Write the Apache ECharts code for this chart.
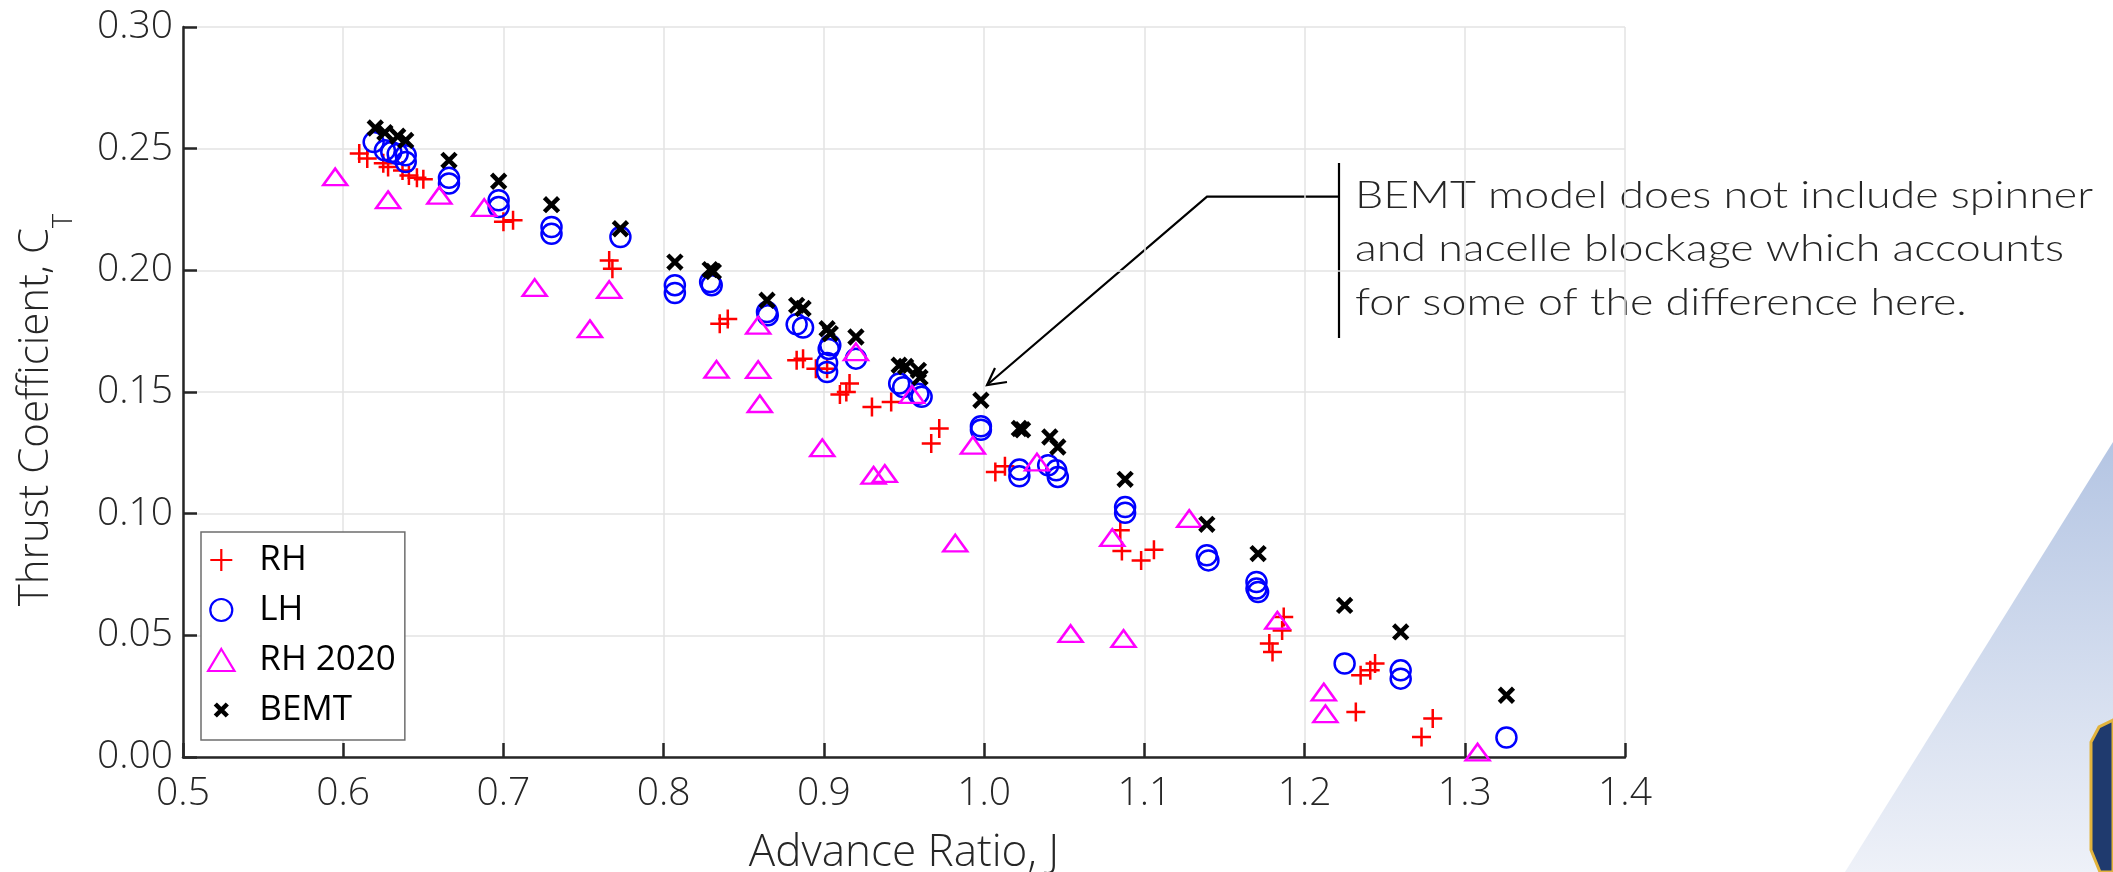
<!DOCTYPE html>
<html>
<head>
<meta charset="utf-8">
<title>Thrust Coefficient vs Advance Ratio</title>
<script src="https://cdn.jsdelivr.net/npm/echarts@6/dist/echarts.min.js"></script>
<style>
  html, body { margin: 0; padding: 0; background: #fff; }
  #chart { width: 2113px; height: 872px; }
</style>
</head>
<body>
<div id="chart"></div>
<script>
// advance ratio J and thrust coefficient CT
var rhJ = [0.610, 0.615, 0.625, 0.628, 0.637, 0.641, 0.646, 0.650, 0.700, 0.706,
  0.766, 0.768, 0.835, 0.840, 0.883, 0.887, 0.895, 0.902, 0.910, 0.914, 0.916,
  0.930, 0.942, 0.967, 0.972, 1.007, 1.013, 1.085, 1.086, 1.098, 1.106,
  1.178, 1.180, 1.186, 1.187, 1.232, 1.235, 1.241, 1.244, 1.273, 1.280];
var rhCT = [0.248, 0.246, 0.244, 0.2425, 0.241, 0.239, 0.238, 0.2374, 0.220, 0.2206,
  0.204, 0.2007, 0.178, 0.180, 0.163, 0.1637, 0.1596, 0.1596, 0.149, 0.150, 0.1535,
  0.1438, 0.1459, 0.1288, 0.135, 0.1171, 0.1195, 0.0932, 0.0847, 0.0808, 0.0852,
  0.0466, 0.0432, 0.052, 0.0575, 0.0185, 0.0336, 0.0357, 0.0384, 0.0082, 0.0158];

var lhJ = [0.619, 0.626, 0.630, 0.634, 0.639, 0.639, 0.666, 0.666, 0.697, 0.697,
  0.730, 0.730, 0.773, 0.807, 0.807, 0.829, 0.830, 0.8645, 0.865, 0.883, 0.887,
  0.904, 0.903, 0.902, 0.902, 0.920, 0.947, 0.9495, 0.959, 0.961, 0.998, 0.998,
  1.022, 1.022, 1.040, 1.045, 1.046, 1.088, 1.088, 1.139, 1.140,
  1.170, 1.170, 1.171, 1.225, 1.260, 1.260, 1.326];
var lhCT = [0.2527, 0.2493, 0.2486, 0.2478, 0.2473, 0.2445, 0.238, 0.2357, 0.2288, 0.226,
  0.2178, 0.215, 0.2137, 0.1939, 0.1907, 0.1952, 0.1939, 0.1829, 0.1815, 0.1778, 0.1765,
  0.1692, 0.1677, 0.1619, 0.1582, 0.1637, 0.1535, 0.152, 0.1493, 0.148, 0.1359, 0.1345,
  0.1181, 0.1154, 0.1199, 0.1178, 0.1151, 0.1027, 0.1004, 0.0829, 0.0808,
  0.0719, 0.0692, 0.0678, 0.0384, 0.0356, 0.0322, 0.008];

var rh2020J = [0.595, 0.628, 0.660, 0.688, 0.7195, 0.754, 0.766, 0.833, 0.859, 0.859,
  0.860, 0.899, 0.920, 0.931, 0.938, 0.955, 0.982, 0.993, 1.033, 1.054, 1.080,
  1.087, 1.128, 1.183, 1.212, 1.213, 1.308];
var rh2020CT = [0.2384, 0.229, 0.2308, 0.2258, 0.1929, 0.176, 0.1921, 0.1593, 0.1774, 0.1592,
  0.1452, 0.1271, 0.1665, 0.1158, 0.1165, 0.149, 0.0879, 0.1281, 0.1212, 0.0507, 0.0902,
  0.0487, 0.098, 0.0562, 0.0267, 0.0178, 0.002];

var bemtJ = [0.620, 0.626, 0.634, 0.639, 0.666, 0.697, 0.730, 0.773, 0.807, 0.829, 0.831,
  0.8645, 0.883, 0.887, 0.902, 0.904, 0.920, 0.947, 0.951, 0.959, 0.960, 0.998,
  1.022, 1.024, 1.041, 1.046, 1.088, 1.139, 1.171, 1.225, 1.260, 1.326];
var bemtCT = [0.2585, 0.2566, 0.2551, 0.2534, 0.2452, 0.2366, 0.227, 0.2171, 0.2034, 0.2003, 0.1995,
  0.1877, 0.1856, 0.1843, 0.176, 0.174, 0.1726, 0.161, 0.1605, 0.1589, 0.156, 0.1466,
  0.135, 0.1345, 0.1315, 0.1274, 0.1141, 0.0956, 0.0836, 0.0623, 0.0514, 0.0254];

var xTicks = { min: 0.5, max: 1.4, step: 0.1 };
var yTicks = { min: 0, max: 0.30, step: 0.05 };

var note = ['BEMT model does not include spinner',
  'and nacelle blockage which accounts',
  'for some of the difference here.'];

function pairs(xs, ys) {
  return xs.map(function (x, i) { return [x, ys[i]]; });
}

var PLUS = 'path://M10,0L10,20M0,10L20,10';
// the two bare moves pad the box so the legend icon stays small
var CROSS = 'path://M0,0M22,22M5,5L17,17M5,17L17,5';
var TRI = 'path://M12,0L24,20L0,20Z';
var labelFont = 'Open Sans';
var ink = '#262626';

var chart = echarts.init(document.getElementById('chart'));

// stretch the annotation text to the width of the original font
var noteFont = '300 37px Lato';
var ctx = document.createElement('canvas').getContext('2d');
ctx.font = noteFont;
var noteScale = 738 / ctx.measureText(note[0]).width;

chart.setOption({
  backgroundColor: '#fff',
  animation: false,
  grid: { left: 183, right: 488, top: 27, bottom: 115, outerBoundsMode: 'none' },
  legend: {
    orient: 'vertical',
    left: 201,
    top: 532,
    padding: [8, 9, 10, 6],
    itemWidth: 66,
    itemHeight: 22,
    itemGap: 10,
    backgroundColor: '#fff',
    borderColor: '#6e6e6e',
    borderWidth: 1.5,
    textStyle: { fontFamily: labelFont, fontSize: 35, color: '#000', lineHeight: 40 },
    data: [
      { name: 'RH', itemStyle: { borderWidth: 2.2 } },
      { name: 'LH', itemStyle: { borderWidth: 2.2 } },
      { name: 'RH 2020', itemStyle: { borderWidth: 2.2 } },
      { name: 'BEMT', itemStyle: { borderWidth: 4.5 } }
    ]
  },
  xAxis: {
    type: 'value',
    min: xTicks.min,
    max: xTicks.max,
    interval: xTicks.step,
    name: 'Advance Ratio, J',
    nameLocation: 'middle',
    nameGap: 74,
    nameTextStyle: { fontFamily: labelFont, fontWeight: 300, fontSize: 44, color: ink },
    axisLine: { lineStyle: { color: ink, width: 2.5 } },
    axisTick: { inside: true, length: 14, lineStyle: { color: ink, width: 2.5 } },
    axisLabel: {
      margin: 17,
      fontFamily: labelFont, fontWeight: 300, fontSize: 39, color: ink,
      formatter: function (v) { return v.toFixed(1); }
    },
    splitLine: { show: true, lineStyle: { color: '#e3e3e3', width: 1.5 } }
  },
  yAxis: {
    type: 'value',
    min: yTicks.min,
    max: yTicks.max,
    interval: yTicks.step,
    name: '{a|Thrust Coefficient, C}{b|T}',
    nameLocation: 'middle',
    nameGap: 120,
    nameTextStyle: {
      fontFamily: labelFont, fontWeight: 300, fontSize: 42, color: ink,
      padding: [0, 36, 0, 0],
      rich: {
        a: { fontFamily: labelFont, fontWeight: 300, fontSize: 42, color: ink, lineHeight: 48, verticalAlign: 'top' },
        b: { fontFamily: labelFont, fontWeight: 300, fontSize: 27, color: ink, lineHeight: 27, verticalAlign: 'top', padding: [36, 0, 0, 0] }
      }
    },
    axisLine: { show: true, lineStyle: { color: ink, width: 2.5 } },
    axisTick: { show: true, inside: true, length: 14, lineStyle: { color: ink, width: 2.5 } },
    axisLabel: {
      margin: 10,
      fontFamily: labelFont, fontWeight: 300, fontSize: 39, color: ink,
      formatter: function (v) { return v.toFixed(2); }
    },
    splitLine: { show: true, lineStyle: { color: '#e3e3e3', width: 1.5 } }
  },
  series: [{
    name: 'RH',
    type: 'scatter',
    symbol: PLUS,
    symbolSize: 19,
    itemStyle: { color: 'rgba(0,0,0,0)', borderColor: '#ff0000', borderWidth: 2.5, opacity: 1 },
    data: pairs(rhJ, rhCT)
  }, {
    name: 'LH',
    type: 'scatter',
    symbol: 'circle',
    symbolSize: 20,
    itemStyle: { color: 'rgba(0,0,0,0)', borderColor: '#0000ff', borderWidth: 2.5, opacity: 1 },
    data: pairs(lhJ, lhCT)
  }, {
    name: 'RH 2020',
    type: 'scatter',
    symbol: TRI,
    symbolKeepAspect: true,
    symbolSize: [24, 20],
    itemStyle: { color: 'rgba(0,0,0,0)', borderColor: '#ff00ff', borderWidth: 2.5, opacity: 1 },
    data: pairs(rh2020J, rh2020CT)
  }, {
    name: 'BEMT',
    type: 'scatter',
    symbol: CROSS,
    symbolSize: 26,
    itemStyle: { color: 'rgba(0,0,0,0)', borderColor: '#000000', borderWidth: 4.5, opacity: 1 },
    data: pairs(bemtJ, bemtCT)
  }],
  graphic: [
    // slide background corner
    {
      type: 'polygon', z: -10, silent: true,
      shape: { points: [[2113, 442], [1845, 872], [2113, 872]] },
      style: {
        fill: new echarts.graphic.LinearGradient(0, 0, 0, 1, [
          { offset: 0, color: '#b4c5e3' },
          { offset: 1, color: '#eef1f8' }
        ])
      }
    },
    {
      type: 'polygon', z: -9, silent: true,
      shape: { points: [[2113, 720], [2099, 727], [2091, 742], [2091, 850], [2100, 872], [2113, 872]] },
      style: { fill: '#1f3a6e', stroke: '#e2b33c', lineWidth: 3 }
    },
    // annotation callout
    {
      type: 'polyline', silent: true,
      shape: { points: [[1339, 196.7], [1207, 196.7], [987, 385]] },
      style: { stroke: '#000', lineWidth: 2.2, fill: null }
    },
    {
      type: 'polyline', silent: true,
      shape: { points: [[995, 368], [987, 385], [1007, 382]] },
      style: { stroke: '#000', lineWidth: 2.2, fill: null }
    },
    {
      type: 'line', silent: true,
      shape: { x1: 1339, y1: 163, x2: 1339, y2: 338 },
      style: { stroke: '#000', lineWidth: 2.2 }
    },
    {
      type: 'text', silent: true, x: 1355, y: 196, scaleX: noteScale,
      style: { text: note[0], font: noteFont, fill: ink, verticalAlign: 'middle' }
    },
    {
      type: 'text', silent: true, x: 1355, y: 249.5, scaleX: noteScale,
      style: { text: note[1], font: noteFont, fill: ink, verticalAlign: 'middle' }
    },
    {
      type: 'text', silent: true, x: 1355, y: 303, scaleX: noteScale,
      style: { text: note[2], font: noteFont, fill: ink, verticalAlign: 'middle' }
    }
  ]
});
</script>
</body>
</html>
